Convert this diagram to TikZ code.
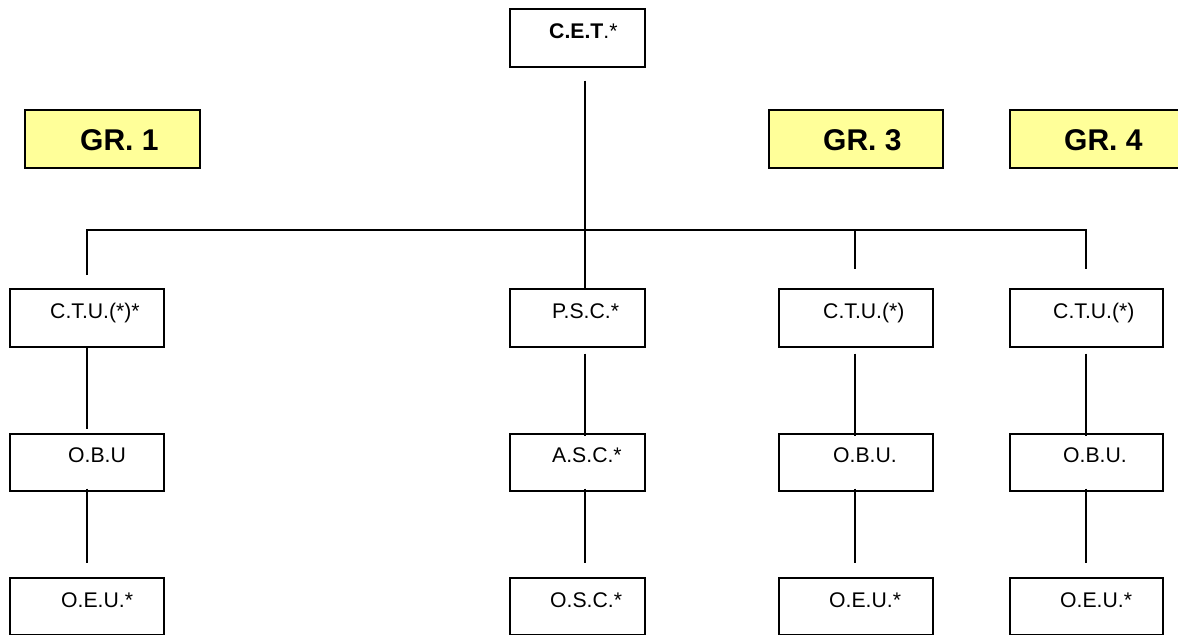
\documentclass[tikz,border=0pt]{standalone}
\usepackage{fontspec}
\setmainfont{Liberation Sans}
\usetikzlibrary{calc}
\definecolor{grfill}{HTML}{FFFF99}
\begin{document}
\begin{tikzpicture}[x=1pt,y=-1pt,
  frame/.style={draw=black, line width=1.5pt, inner sep=0pt, anchor=north west},
  grp/.style={frame, fill=grfill},
  lbl/.style={inner sep=0pt, anchor=base west, font=\fontsize{21.2}{25}\selectfont},
  grlbl/.style={inner sep=0pt, anchor=base west, font=\fontsize{30}{36}\selectfont\bfseries},
  wire/.style={line width=1.3pt}]
\clip (0,0) rectangle (1178,635);

% top unit
\node[frame, minimum width=135pt, minimum height=58pt] (cet) at (509,8) {};
\node[lbl] (cet-t) at (549,38) {\textbf{C.E.T}.*};

% group tags
\node[grp, minimum width=175pt, minimum height=58pt] (gr1) at (24,109) {};
\node[grlbl] (gr1-t) at (80,150.5) {GR. 1};
\node[grp, minimum width=174pt, minimum height=58pt] (gr3) at (768,109) {};
\node[grlbl] (gr3-t) at (823,150.5) {GR. 3};
\node[grp, minimum width=185pt, minimum height=58pt] (gr4) at (1009,109) {};
\node[grlbl] (gr4-t) at (1064,150.5) {GR. 4};

% first row
\node[frame, minimum width=154pt, minimum height=58pt] (ctu1) at (9,288) {};
\node[lbl] (ctu1-t) at (50,318) {C.T.U.(*)*};
\node[frame, minimum width=135pt, minimum height=58pt] (psc) at (509,288) {};
\node[lbl] (psc-t) at (552,318) {P.S.C.*};
\node[frame, minimum width=154pt, minimum height=58pt] (ctu3) at (778,288) {};
\node[lbl] (ctu3-t) at (823,318) {C.T.U.(*)};
\node[frame, minimum width=153pt, minimum height=58pt] (ctu4) at (1009,288) {};
\node[lbl] (ctu4-t) at (1053,318) {C.T.U.(*)};

% second row
\node[frame, minimum width=154pt, minimum height=57pt] (obu1) at (9,433) {};
\node[lbl] (obu1-t) at (68,462) {O.B.U};
\node[frame, minimum width=135pt, minimum height=57pt] (asc) at (509,433) {};
\node[lbl] (asc-t) at (552,462) {A.S.C.*};
\node[frame, minimum width=154pt, minimum height=57pt] (obu3) at (778,433) {};
\node[lbl] (obu3-t) at (833,462) {O.B.U.};
\node[frame, minimum width=153pt, minimum height=57pt] (obu4) at (1009,433) {};
\node[lbl] (obu4-t) at (1063,462) {O.B.U.};

% third row
\node[frame, minimum width=154pt, minimum height=56.5pt] (oeu1) at (9,577) {};
\node[lbl] (oeu1-t) at (61,607) {O.E.U.*};
\node[frame, minimum width=135pt, minimum height=56.5pt] (osc) at (509,577) {};
\node[lbl] (osc-t) at (550,607) {O.S.C.*};
\node[frame, minimum width=154pt, minimum height=56.5pt] (oeu3) at (778,577) {};
\node[lbl] (oeu3-t) at (829,607) {O.E.U.*};
\node[frame, minimum width=153pt, minimum height=56.5pt] (oeu4) at (1009,577) {};
\node[lbl] (oeu4-t) at (1060,607) {O.E.U.*};

% distribution bus
\coordinate (busL) at (87,230);
\coordinate (busC) at (585,230);
\coordinate (bus3) at (855,230);
\coordinate (busR) at (1086,230);

\draw[wire] ($(cet.south -| busC)+(0,13)$) -- (busC);
\draw[wire] ($(ctu1.north -| busL)+(0,-13)$) -- (busL) -- (busR)
  -- ($(ctu4.north -| busR)+(0,-19)$);
\draw[wire] (busC) -- (psc.north -| busC);
\draw[wire] (bus3) -- ($(ctu3.north -| bus3)+(0,-19)$);

% first row to second row
\draw[wire] (ctu1.south -| busL) -- ($(obu1.north -| busL)+(0,-4)$);
\draw[wire] ($(psc.south -| busC)+(0,6)$) -- ($(asc.north -| busC)+(0,3)$);
\draw[wire] ($(ctu3.south -| bus3)+(0,6)$) -- ($(obu3.north -| bus3)+(0,3)$);
\draw[wire] ($(ctu4.south -| busR)+(0,6)$) -- ($(obu4.north -| busR)+(0,3)$);

% second row to third row
\draw[wire] ($(obu1.south -| busL)+(0,-3)$) -- ($(oeu1.north -| busL)+(0,-14)$);
\draw[wire] ($(asc.south -| busC)+(0,-3)$) -- ($(osc.north -| busC)+(0,-14)$);
\draw[wire] ($(obu3.south -| bus3)+(0,-3)$) -- ($(oeu3.north -| bus3)+(0,-14)$);
\draw[wire] ($(obu4.south -| busR)+(0,-3)$) -- ($(oeu4.north -| busR)+(0,-14)$);
\end{tikzpicture}
\end{document}
